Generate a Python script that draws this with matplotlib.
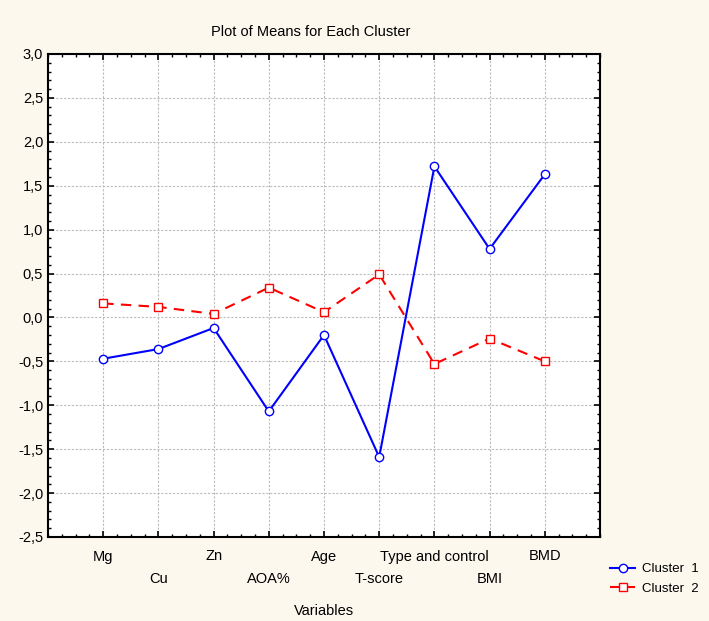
import matplotlib
matplotlib.use("Agg")
import matplotlib.pyplot as plt
from matplotlib.ticker import FuncFormatter, MultipleLocator, AutoMinorLocator

plt.rcParams['font.family'] = ['Liberation Sans Narrow', 'Liberation Sans', 'DejaVu Sans']

VARIABLES = ["Mg", "Cu", "Zn", "AOA%", "Age", "T-score", "Type and control", "BMI", "BMD"]
CLUSTER_1 = [-0.47, -0.36, -0.12, -1.07, -0.20, -1.59, 1.72, 0.78, 1.63]
CLUSTER_2 = [0.16, 0.12, 0.04, 0.34, 0.06, 0.49, -0.53, -0.24, -0.50]

BG = "#fdf8ee"

fig = plt.figure(figsize=(7.09, 6.21), dpi=100, facecolor=BG)
ax = fig.add_axes([48 / 709, 1 - 537 / 621, 552 / 709, 483 / 621])
ax.set_facecolor("white")

xs = list(range(1, len(VARIABLES) + 1))
ax.plot(xs, CLUSTER_1, color="blue", lw=1.5, marker="o", ms=6,
        mfc="white", mec="blue", mew=1.0, label="Cluster  1", zorder=3)
ax.plot(xs, CLUSTER_2, color="red", lw=1.5, ls=(0, (5, 3.5)), marker="s", ms=6,
        mfc="white", mec="red", mew=1.0, label="Cluster  2", zorder=3)

ax.set_xlim(0, len(VARIABLES) + 1)
ax.set_ylim(-2.5, 3.0)
ax.set_xticks(xs)
ax.set_xticklabels(VARIABLES)
ax.xaxis.set_minor_locator(AutoMinorLocator(4))
ax.yaxis.set_major_locator(MultipleLocator(0.5))
ax.yaxis.set_minor_locator(MultipleLocator(0.1))
ax.yaxis.set_major_formatter(FuncFormatter(lambda v, p: f"{v:.1f}".replace(".", ",")))

ax.tick_params(which="both", direction="in", top=True, right=True, colors="black",
               labelsize=10.5)
ax.tick_params(which="major", length=4, width=1.2)
ax.tick_params(which="minor", length=2.5, width=1.0)
ax.tick_params(axis="x", which="major", pad=9)
# stagger the category names on two rows
for tick in ax.xaxis.get_major_ticks()[1::2]:
    tick.set_pad(25)

for sp in ax.spines.values():
    sp.set_linewidth(1.5)
    sp.set_color("black")

ax.grid(True, which="major", color="#bbbbbb", ls=(0, (2, 1.5)), lw=0.8)
ax.set_axisbelow(True)

ax.set_title("Plot of Means for Each Cluster", fontsize=10.5, pad=13, x=0.475)
ax.set_xlabel("Variables", fontsize=10.5, labelpad=13)

fig.legend(loc="center left", bbox_to_anchor=(610 / 709, 1 - 579 / 621),
           frameon=False, fontsize=9.5, handlelength=1.9, labelspacing=0.55,
           handletextpad=0.5, borderaxespad=0, borderpad=0)

fig.savefig("out.png", dpi=100, facecolor=BG)
